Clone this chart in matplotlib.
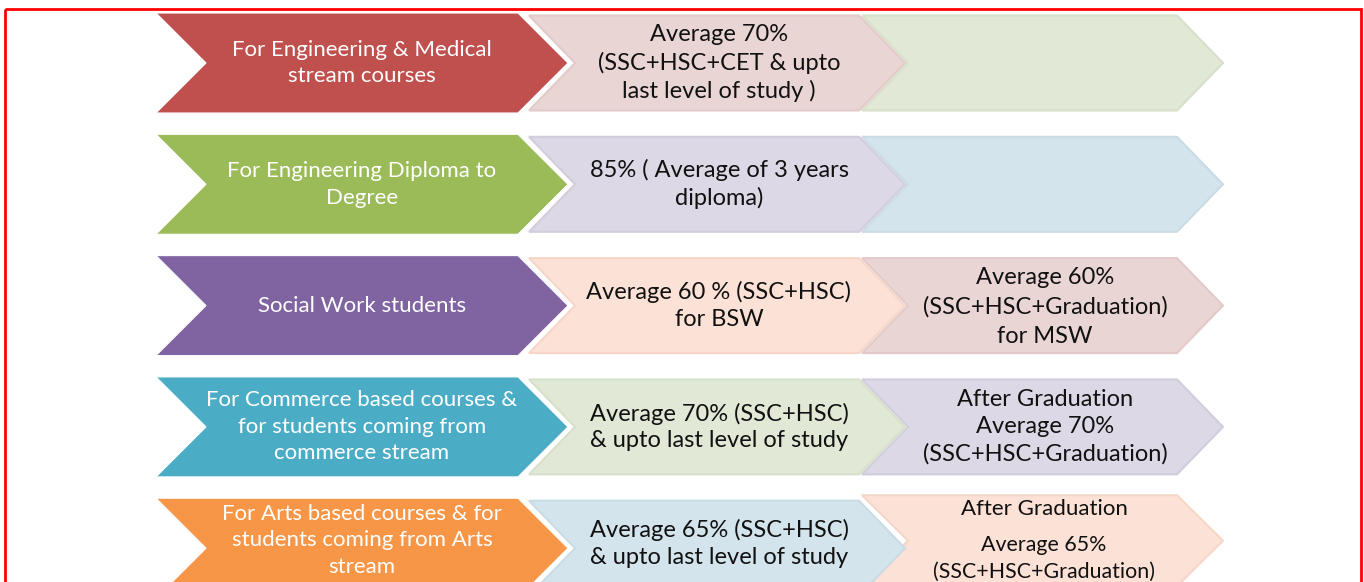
import matplotlib
matplotlib.use("Agg")
import matplotlib.pyplot as plt
from matplotlib.patches import Polygon, Rectangle

plt.rcParams['font.family'] = ['Lato', 'DejaVu Sans']

# ---- content ----
categories = [
    "For Engineering & Medical\nstream courses",
    "For Engineering Diploma to\nDegree",
    "Social Work students",
    "For Commerce based courses &\nfor students coming from\ncommerce stream",
    "For Arts based courses & for\nstudents coming from Arts\nstream",
]
first_criteria = [
    "Average 70%\n(SSC+HSC+CET & upto\nlast level of study )",
    "85% ( Average of 3 years\ndiploma)",
    "Average 60 % (SSC+HSC)\nfor BSW",
    "Average 70% (SSC+HSC)\n& upto last level of study",
    "Average 65% (SSC+HSC)\n& upto last level of study",
]
second_criteria = [
    "",
    "",
    "Average 60%\n(SSC+HSC+Graduation)\nfor MSW",
    "After Graduation\nAverage 70%\n(SSC+HSC+Graduation)",
    "After Graduation\n\nAverage 65%\n(SSC+HSC+Graduation)",
]

# ---- styles ----
main_colors = ["#C0504D", "#9BBB59", "#8064A2", "#4BACC6", "#F79646"]
first_colors = ["#EAD5D5", "#DCD8E5", "#FCE1D6", "#E1E9D6", "#D4E4EC"]
second_colors = ["#E1E9D6", "#D4E4EC", "#EAD5D5", "#DCD8E5", "#FCE1D6"]
first_edges = ["#E3CACA", "#D2CDDD", "#F6D6C9", "#D7E0CA", "#C9DCE6"]
second_edges = ["#D7E0CA", "#C9DCE6", "#E3CACA", "#D2CDDD", "#F6D6C9"]

W, H = 1364, 582
fig = plt.figure(figsize=(W / 100, H / 100), dpi=100)
ax = fig.add_axes([0, 0, 1, 1])
ax.set_xlim(0, W)
ax.set_ylim(H, 0)
ax.axis('off')


def chevron(x0, x1, top, bot, depth):
    mid = (top + bot) / 2
    return [(x0, top), (x1, top), (x1 + depth, mid), (x1, bot), (x0, bot), (x0 + depth, mid)]


row_top0, row_step, row_h = 13, 121.3, 100
for i, (cat, c1, c2) in enumerate(zip(categories, first_criteria, second_criteria)):
    top = row_top0 + i * row_step
    bot = top + row_h
    mid = (top + bot) / 2
    # the last row's texts sit higher, as the figure is cut at the bottom
    main_mid = mid - 8 if i == 4 else mid
    first_mid = mid - 4.5 if i == 4 else mid
    # third chevron
    t3, b3 = top + 2.5, bot - 2.5
    if i == 4:
        t3, b3 = top - 3, top + 88
    ax.add_patch(Polygon(chevron(862, 1177, t3, b3, 46), closed=True,
                         facecolor=second_colors[i], edgecolor=second_edges[i], lw=1.5, zorder=1))
    # second chevron
    ax.add_patch(Polygon(chevron(529, 859, top + 2.5, bot - 2.5, 46), closed=True,
                         facecolor=first_colors[i], edgecolor=first_edges[i], lw=1.5, zorder=2))
    # main chevron
    ax.add_patch(Polygon(chevron(156, 518, top, bot, 50), closed=True,
                         facecolor=main_colors[i], edgecolor='white', lw=0.8, zorder=3))

    ax.text(362, main_mid, cat, ha='center', va='center', color='white', fontsize=16,
            linespacing=1.4, zorder=4)
    ax.text(719, first_mid, c1, ha='center', va='center', color='#111111', fontsize=17,
            linespacing=1.34, zorder=4)
    if i == 2:
        ax.text(1045, mid + 1, c2, ha='center', va='center', color='#111111', fontsize=17,
                linespacing=1.48, zorder=4)
    elif i == 3:
        ax.text(1045, mid, c2, ha='center', va='center', color='#111111', fontsize=17,
                linespacing=1.37, zorder=4)
    elif i == 4:
        lines = c2.split("\n")
        ax.text(1044, top + 11, lines[0], ha='center', va='center', color='#111111',
                fontsize=16, zorder=4)
        ax.text(1044, top + 60, "\n".join(lines[2:]), ha='center', va='center',
                color='#111111', fontsize=15.4, linespacing=1.45, zorder=4)

# red frame
ax.add_patch(Rectangle((4.5, 8.5), 1356, 600, fill=False, edgecolor='#FF0000', lw=2.0, zorder=5))

fig.savefig("out.png", dpi=100)
